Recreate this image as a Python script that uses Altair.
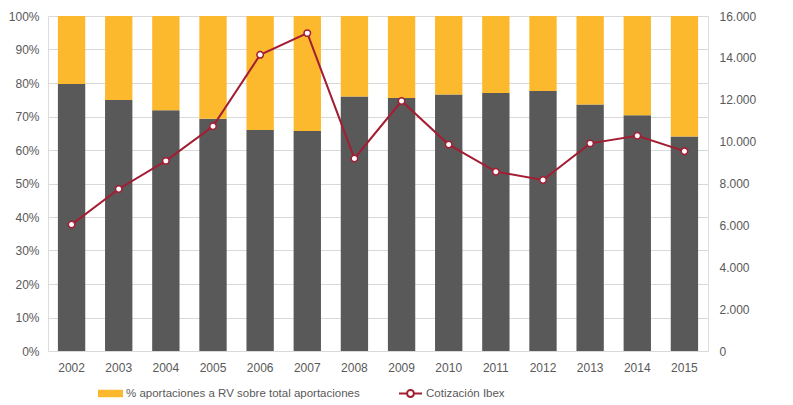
import altair as alt
import pandas as pd

years = ["2002", "2003", "2004", "2005", "2006", "2007", "2008",
         "2009", "2010", "2011", "2012", "2013", "2014", "2015"]
share_dark = [79.7, 74.9, 71.9, 69.3, 66.0, 65.7, 76.0,
              75.5, 76.6, 77.0, 77.6, 73.6, 70.4, 64.0]
ibex = [6036.9, 7737.2, 9080.8, 10733.9, 14146.5, 15182.3, 9195.8,
        11940.0, 9859.1, 8566.3, 8167.5, 9916.7, 10279.5, 9544.2]
label_rv = "% aportaciones a RV sobre total aportaciones"
label_ibex = "Cotización Ibex"

df = pd.DataFrame({
    "year": years,
    "share": share_dark,
    "ibex": ibex,
    "rv_label": label_rv,
    "ibex_label": label_ibex,
})

FONT = "Liberation Sans"
FS = 12
LFS = 11.5
TXT = "#595959"
GRID = "#D9D9D9"

x = alt.X(
    "year:N",
    scale=alt.Scale(paddingInner=0.42, paddingOuter=0.21),
    axis=alt.Axis(title=None, labelAngle=0, ticks=False, domain=False,
                  labelPadding=11, labelFontSize=FS, labelColor=TXT, labelFont=FONT),
)

left_axis = alt.Axis(title=None, values=list(range(0, 101, 10)), tickCount=11,
                     labelExpr="datum.value + '%'", grid=True, gridColor=GRID,
                     domain=False, ticks=False, labelPadding=9, labelOverlap=False,
                     labelFontSize=FS, labelColor=TXT, labelFont=FONT)

base = alt.Chart(df)

dark = base.mark_bar(color="#595959").encode(
    x=x,
    y=alt.Y("share:Q", scale=alt.Scale(domain=[0, 100], nice=False), axis=left_axis),
)

orange = base.mark_bar().encode(
    x=x,
    y=alt.Y("share:Q", scale=alt.Scale(domain=[0, 100], nice=False), axis=left_axis),
    y2=alt.datum(100),
    fill=alt.Fill(
        "rv_label:N",
        scale=alt.Scale(domain=[label_rv], range=["#FDB92E"]),
        legend=alt.Legend(
            title=None, orient="none", legendX=50, legendY=365,
            symbolType="M-1,-0.3L1,-0.3L1,0.3L-1,0.3Z", symbolSize=625,
            symbolStrokeWidth=0, labelFontSize=LFS, labelColor=TXT,
            labelFont=FONT, labelOffset=3, labelLimit=400,
        ),
    ),
)

line = base.mark_line(
    strokeWidth=2,
    point=alt.OverlayMarkDef(filled=True, fill="white", size=42, strokeWidth=1.5),
).encode(
    x=x,
    y=alt.Y(
        "ibex:Q",
        scale=alt.Scale(domain=[0, 16000], nice=False),
        axis=alt.Axis(title=None, orient="right", values=list(range(0, 16001, 2000)),
                      labelExpr="replace(format(datum.value, ','), ',', '.')",
                      grid=False, domain=False, ticks=False, labelPadding=11,
                      labelOverlap=False,
                      labelFontSize=FS, labelColor=TXT, labelFont=FONT),
    ),
    stroke=alt.Stroke(
        "ibex_label:N",
        scale=alt.Scale(domain=[label_ibex], range=["#A31D33"]),
        legend=alt.Legend(
            title=None, orient="none", legendX=350, legendY=365,
            symbolType="M-1,0L-0.3,0M0.3,0L1,0M0.3,0A0.3,0.3 0 1,1 -0.3,0A0.3,0.3 0 1,1 0.3,0",
            symbolSize=529, symbolStrokeWidth=2, symbolFillColor="white",
            labelFontSize=LFS, labelColor=TXT, labelFont=FONT, labelOffset=3,
        ),
    ),
)

chart = alt.layer(alt.layer(dark, orange), line).resolve_scale(
    y="independent"
).properties(
    width=660, height=335,
    padding={"left": 40, "top": 8, "right": 70, "bottom": 50},
    autosize=alt.AutoSizeParams(type="none"),
).configure_view(stroke=None).configure(font=FONT)

chart.save("out.html", embed_options={"renderer": "svg", "actions": False})
